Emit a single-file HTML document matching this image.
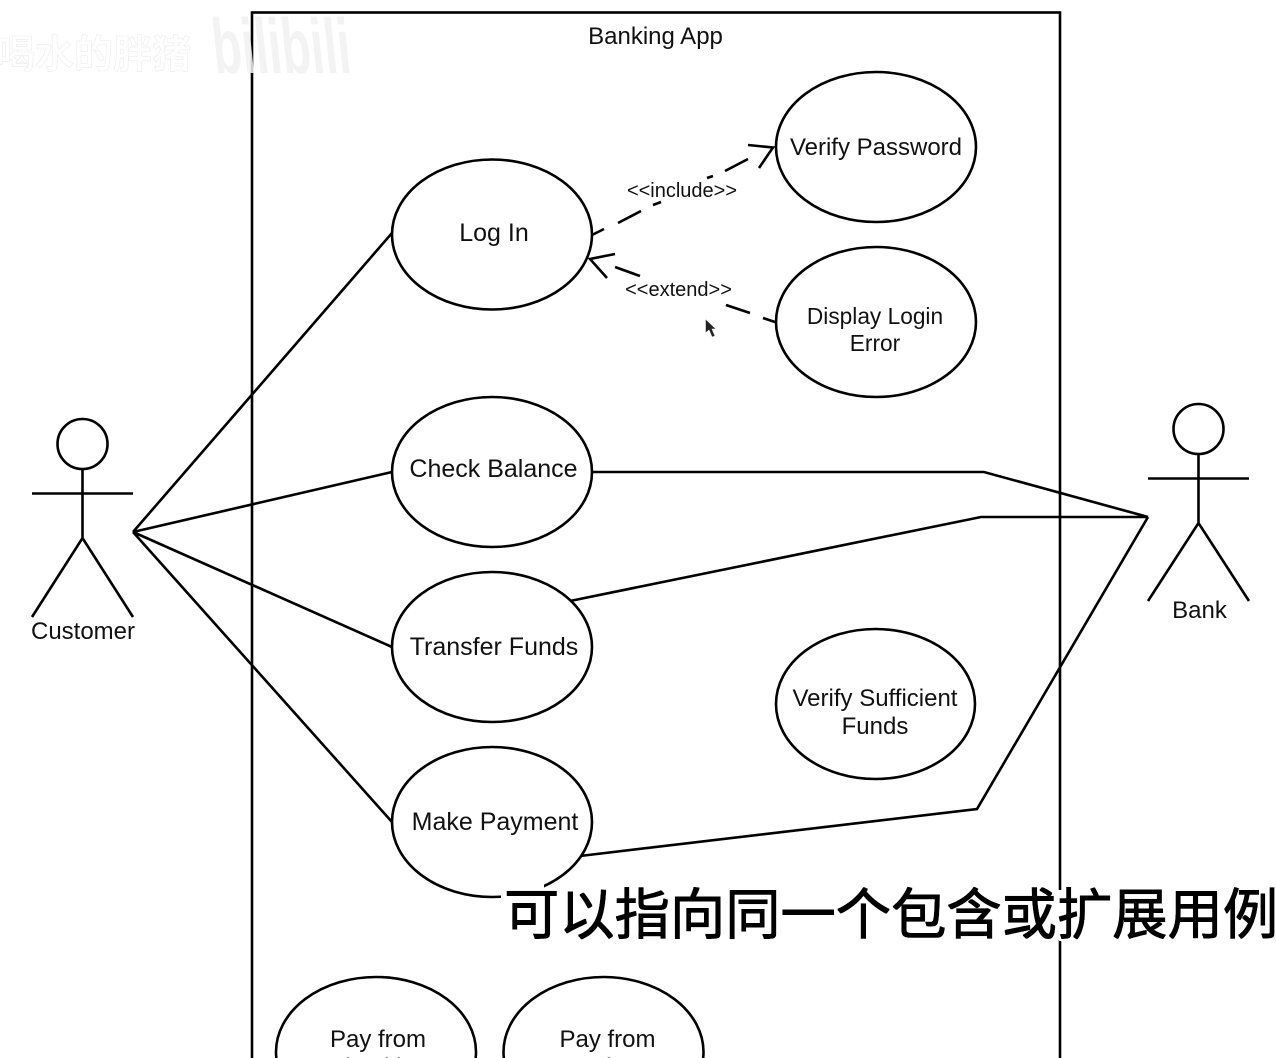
<!DOCTYPE html>
<html>
<head>
<meta charset="utf-8">
<style>
html,body{margin:0;padding:0;background:#fff;width:1276px;height:1058px;overflow:hidden}
svg{display:block}
text{font-family:"Liberation Sans","Noto Sans CJK SC",sans-serif;fill:#111}
.s{fill:none;stroke:#000;stroke-width:2.6}
.e{fill:#fff;stroke:#000;stroke-width:2.6}
.t{font-size:24px;text-anchor:middle}
.b{font-size:25px;text-anchor:middle}
.d{font-size:22.700px;text-anchor:middle}
.l{font-size:20px;text-anchor:middle}
</style>
</head>
<body>
<svg width="1276" height="1058" viewBox="0 0 1276 1058" xmlns="http://www.w3.org/2000/svg" style="overflow:hidden">
<defs>
<filter id="sub" x="-5%" y="-20%" width="110%" height="140%">
<feMorphology in="SourceAlpha" operator="dilate" radius="0.7" result="thick"/>
<feMorphology in="SourceAlpha" operator="dilate" radius="2.5" result="halo"/>
<feFlood flood-color="#fff" result="w"/>
<feComposite in="w" in2="halo" operator="in" result="outer"/>
<feFlood flood-color="#000" result="k"/>
<feComposite in="k" in2="thick" operator="in" result="inner"/>
<feMerge><feMergeNode in="outer"/><feMergeNode in="inner"/></feMerge>
</filter>
</defs>
<rect x="252" y="12.500" width="808" height="1060" fill="none" stroke="#000" stroke-width="2.600"/>
<text x="655.500" y="44" class="t">Banking App</text>

<!-- watermark -->
<text x="-4" y="68" style="font-size:39px;font-weight:700;fill:#fff;stroke:#ececec;stroke-width:.6;font-family:'Liberation Sans','Noto Sans CJK SC',sans-serif">喝水的胖猪</text>
<text x="0" y="0" transform="translate(215,73) skewX(6)" style="font-size:78px;font-weight:700;fill:#f1f1f1;opacity:.85;font-family:'Liberation Sans',sans-serif" textLength="138" lengthAdjust="spacingAndGlyphs">bilibili</text>

<!-- customer actor -->
<circle cx="82.500" cy="444" r="25" class="s"/>
<path class="s" d="M82.500 469V538M32 493.500H133M32 617L82.500 538L133 617"/>
<text x="83" y="639" class="t">Customer</text>

<!-- bank actor -->
<circle cx="1198.500" cy="429" r="25" class="s"/>
<path class="s" d="M1198.500 454V523M1148 478.500H1249M1148 601L1198.500 523L1249 601"/>
<text x="1199.500" y="618" class="t">Bank</text>

<!-- associations -->
<path class="s" d="M133 532L392 233M133 532L392 472M133 532L392 647M133 532L392 822"/>
<path class="s" d="M592 472H984L1148 517M570 601L981 517H1148M1148 517L977 809L580 856"/>

<!-- use cases -->
<ellipse class="e" cx="492" cy="234.500" rx="100" ry="75"/>
<ellipse class="e" cx="876" cy="147" rx="100" ry="75"/>
<ellipse class="e" cx="876" cy="322" rx="100" ry="75"/>
<ellipse class="e" cx="492" cy="472" rx="100" ry="75"/>
<ellipse class="e" cx="492" cy="647" rx="100" ry="75"/>
<ellipse class="e" cx="875.500" cy="704" rx="99.500" ry="75"/>
<ellipse class="e" cx="492" cy="822" rx="100" ry="75"/>
<ellipse class="e" cx="376" cy="1052" rx="100" ry="75"/>
<ellipse class="e" cx="603.500" cy="1052" rx="100" ry="75"/>

<text x="494" y="241" class="b">Log In</text>
<text x="876" y="155" class="t">Verify Password</text>
<text x="875" y="324" class="d">Display Login</text>
<text x="875" y="351" class="d">Error</text>
<text x="493.500" y="477" class="b">Check Balance</text>
<text x="494" y="655" class="b">Transfer Funds</text>
<text x="875" y="706" class="t">Verify Sufficient</text>
<text x="875" y="734" class="t">Funds</text>
<text x="495" y="830" class="b">Make Payment</text>
<text x="378" y="1047" class="t">Pay from</text>
<text x="378" y="1075" class="t">Checking</text>
<text x="607.500" y="1047" class="t">Pay from</text>
<text x="607.500" y="1075" class="t">Savings</text>

<!-- include -->
<path class="s" d="M592 235L604 229M618 223L641 211M653 205L661 202M707 178L713 176M725 171L748 159"/>
<path class="s" d="M748 145L773 147.500L759 168"/>
<text x="682" y="197" class="l">&lt;&lt;include&gt;&gt;</text>

<!-- extend -->
<path class="s" d="M775 322L763 318M750 313L726 305M640 276L615 267"/>
<path class="s" d="M615 254L590 259L607 278"/>
<text x="678.500" y="296" class="l">&lt;&lt;extend&gt;&gt;</text>

<!-- cursor -->
<path d="M705.500 319V333L709 330L712 337L715 336L712 329H716Z" fill="#222" stroke="#eee" stroke-width=".6"/>

<!-- subtitle halo gaps -->
<rect x="501" y="884" width="43" height="18" fill="#fff"/>
<rect x="1057" y="890" width="6" height="50" fill="#fff"/>

<!-- subtitle -->
<text x="504" y="934" filter="url(#sub)" style="font-size:55.300px;font-weight:400;fill:#000;font-family:'Noto Sans CJK SC',sans-serif">可以指向同一个包含或扩展用例</text>
</svg>
</body>
</html>
